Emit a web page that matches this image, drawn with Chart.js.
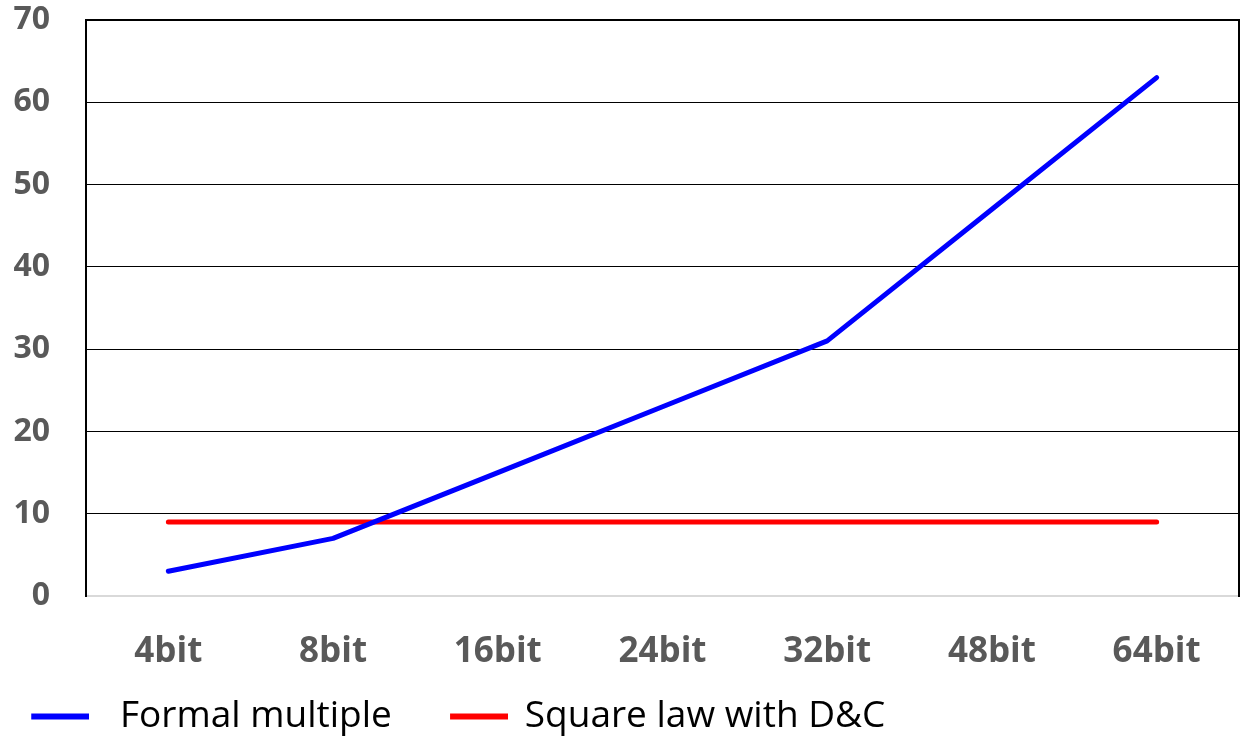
<!DOCTYPE html>
<html>
<head>
<meta charset="utf-8">
<style>
  html, body { margin: 0; padding: 0; background: #ffffff; }
  #wrap { width: 1241px; height: 742px; }
</style>
<script src="https://cdn.jsdelivr.net/npm/chart.js@4.4.1/dist/chart.umd.min.js"></script>
</head>
<body>
<div id="wrap"><canvas id="chart" width="1241" height="742"></canvas></div>
<script>
// Multiplier complexity by operand width
const categories = ['4bit', '8bit', '16bit', '24bit', '32bit', '48bit', '64bit'];
const formalMultiple = [3, 7, 15, 23, 31, 47, 63];
const squareLawDC = [9, 9, 9, 9, 9, 9, 9];
const yTicks = [0, 10, 20, 30, 40, 50, 60, 70];

const seriesNames = ['Formal multiple', 'Square law with D&C'];
const seriesColors = ['#0000ff', '#ff0000'];

// Legend swatch: a short thick stroke drawn inside a wider transparent canvas,
// so the stroke can sit at an offset from the legend box centre.
function makeSwatch(color, canvasWidth, lineStart, lineLength) {
  const c = document.createElement('canvas');
  c.width = canvasWidth;
  c.height = 8;
  const g = c.getContext('2d');
  g.fillStyle = color;
  g.fillRect(lineStart, 1, lineLength, 6);
  return c;
}
const swatches = [
  makeSwatch(seriesColors[0], 74, 16, 58),
  makeSwatch(seriesColors[1], 102, 44, 58)
];

new Chart(document.getElementById('chart'), {
  type: 'line',
  data: {
    labels: categories,
    datasets: [
      {
        label: seriesNames[0],
        data: formalMultiple,
        borderColor: seriesColors[0],
        backgroundColor: seriesColors[0],
        borderWidth: 5,
        borderCapStyle: 'round',
        borderJoinStyle: 'round',
        pointRadius: 0,
        tension: 0
      },
      {
        label: seriesNames[1],
        data: squareLawDC,
        borderColor: seriesColors[1],
        backgroundColor: seriesColors[1],
        borderWidth: 5,
        borderCapStyle: 'round',
        pointRadius: 0,
        tension: 0
      }
    ]
  },
  options: {
    responsive: false,
    animation: false,
    layout: { padding: { top: 20, right: 0, bottom: -3, left: -13 } },
    plugins: {
      tooltip: { enabled: false },
      legend: {
        position: 'bottom',
        align: 'start',
        labels: {
          usePointStyle: true,
          pointStyleWidth: 98.5,
          boxHeight: 8,
          padding: 16,
          color: '#000000',
          font: { family: 'Open Sans', size: 37 },
          generateLabels(chart) {
            const items = Chart.defaults.plugins.legend.labels.generateLabels(chart);
            items.forEach((it) => { it.pointStyle = swatches[it.datasetIndex]; });
            return items;
          }
        }
      }
    },
    scales: {
      x: {
        type: 'category',
        offset: true,
        grid: { display: false, drawTicks: false },
        border: { display: true, color: '#d9d9d9', width: 2 },
        ticks: { color: '#595959', font: { family: 'Open Sans', weight: 'bold', size: 35 }, padding: 35, maxRotation: 0 },
        afterFit(scale) { scale.height = 86; }
      },
      y: {
        min: 0,
        max: 70,
        afterBuildTicks(scale) { scale.ticks = yTicks.map((v) => ({ value: v })); },
        grid: {
          drawTicks: false,
          color: (c) => (c.tick && c.tick.value === 0 ? '#d9d9d9' : '#000000'),
          lineWidth: (c) => (c.tick && c.tick.value === 70 ? 2 : 1)
        },
        border: { display: true, color: '#000000', width: 2 },
        ticks: { color: '#595959', font: { family: 'Open Sans', weight: 'bold', size: 32 }, padding: 36 },
        afterFit(scale) {
          scale.width = 99;
          scale.paddingTop = 0;
          scale.paddingBottom = 0;
        }
      },
      yRight: {
        position: 'right',
        min: 0,
        max: 70,
        grid: { display: false, drawTicks: false },
        border: { display: true, color: '#000000', width: 2 },
        ticks: { display: false },
        afterFit(scale) {
          scale.width = 2;
          scale.paddingTop = 0;
          scale.paddingBottom = 0;
        }
      }
    }
  }
});
</script>
</body>
</html>
